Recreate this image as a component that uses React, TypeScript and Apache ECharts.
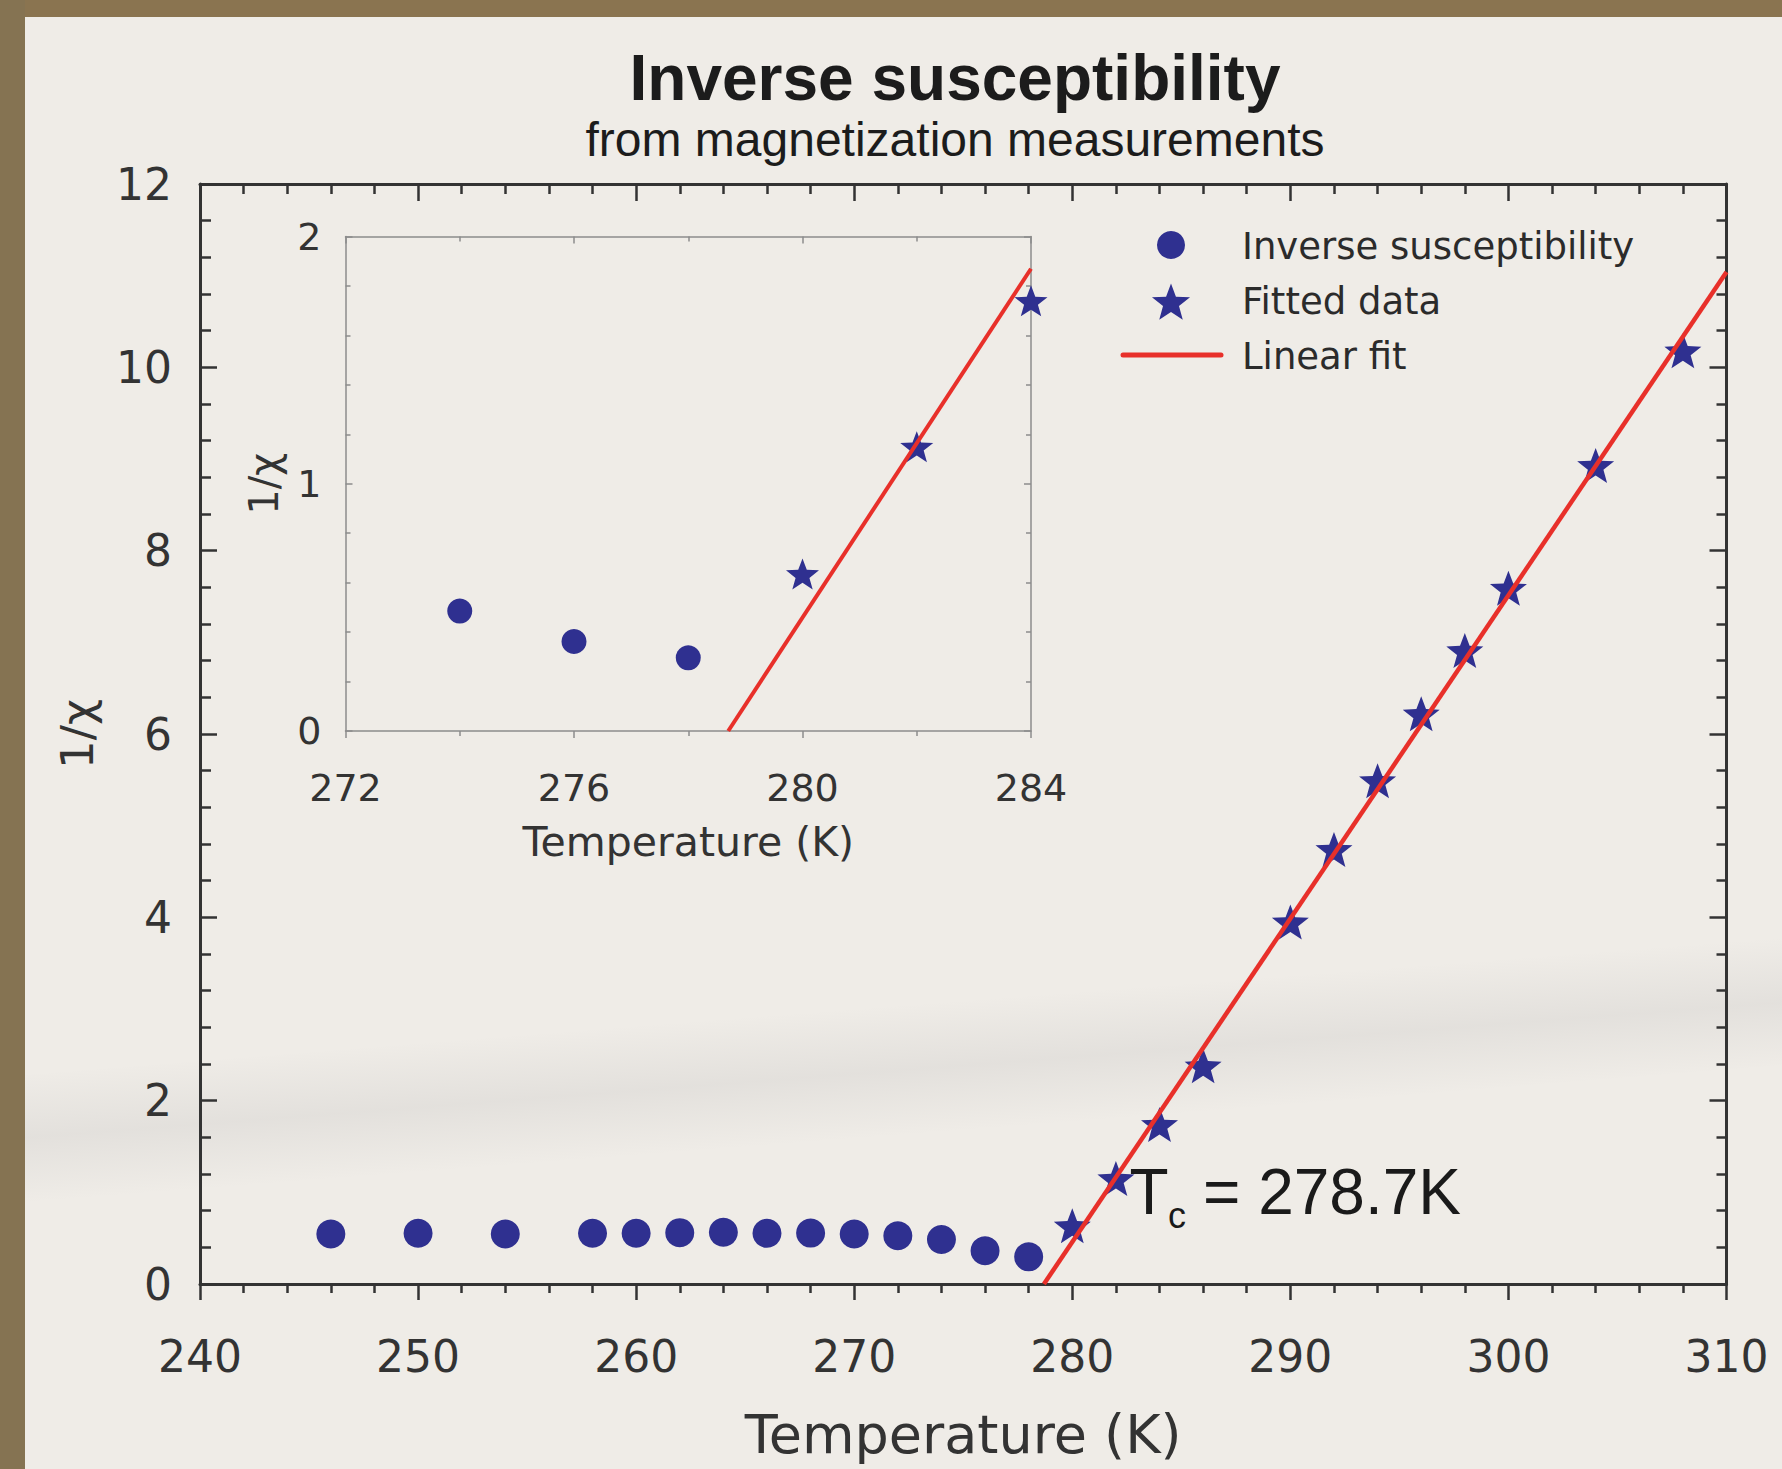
import React, { useEffect, useRef } from 'react';
import * as echarts from 'echarts';

// ---- data ----
const circleTemps = [246, 250, 254, 258, 260, 262, 264, 266, 268, 270, 272, 274, 276, 278];
const circleValues = [0.545, 0.553, 0.545, 0.553, 0.553, 0.56, 0.564, 0.553, 0.555, 0.545, 0.527, 0.485, 0.362, 0.296];
const starTemps = [280, 282, 284, 286, 290, 292, 294, 296, 298, 300, 304, 308];
const starValues = [0.635, 1.15, 1.74, 2.38, 3.95, 4.74, 5.49, 6.22, 6.91, 7.59, 8.93, 10.18];
const fitMainTemps = [278.7, 310];
const fitMainValues = [0, 11.04];
const fitInsetTemps = [278.7, 284];
const fitInsetValues = [0, 1.87];
// temperatures shown in the inset (the 272 K point is not drawn there)
const insetDataRange = [274, 284];

const NAVY = '#2f3090';
const RED = '#e8302a';
const AXIS = '#333333';
const INSET_AXIS = '#8c8c8c';
const PAPER = '#efece7';
const SANS = '"DejaVu Sans", sans-serif';
const ARIAL = '"Liberation Sans", Arial, sans-serif';

function zip(xs: number[], ys: number[]) {
  return xs.map((x, i) => [x, ys[i]]);
}
function inRange(xs: number[], ys: number[], lo: number, hi: number) {
  return zip(xs, ys).filter((p) => p[0] >= lo && p[0] <= hi);
}
function starPts(cx: number, cy: number, R: number, ratio: number) {
  const pts: number[][] = [];
  for (let i = 0; i < 10; i++) {
    const a = -Math.PI / 2 + (i * Math.PI) / 5;
    const r = i % 2 === 0 ? R : R * ratio;
    pts.push([cx + r * Math.cos(a), cy + r * Math.sin(a)]);
  }
  return pts;
}
function starSymbol(ratio: number) {
  const p = starPts(0, 0, 1, ratio).map((q) => q[0].toFixed(4) + ',' + q[1].toFixed(4));
  return 'path://M' + p.join('L') + 'Z';
}
const STAR = starSymbol(0.42);

export default function App() {
  const ref = useRef<HTMLDivElement>(null);
  useEffect(() => {
    if (!ref.current) return;
    const chart = echarts.init(ref.current, undefined, { renderer: 'svg' });

    const mainTick = (inside: boolean, len: number, mlen: number) => ({
      axisTick: { show: true, inside, length: len, lineStyle: { color: AXIS, width: 2.5 } },
      minorTick: { show: true, splitNumber: 5, length: mlen, lineStyle: { color: AXIS, width: 2.5 } },
    });
    const insetTick = (inside: boolean, split: number) => ({
      axisTick: { show: true, inside, length: 7, lineStyle: { color: INSET_AXIS, width: 1.5 } },
      minorTick: { show: true, splitNumber: split, length: 5, lineStyle: { color: INSET_AXIS, width: 1.5 } },
    });

    const option: any = {
      animation: false,
      backgroundColor: PAPER,
      title: [
        {
          text: 'Inverse susceptibility',
          left: 955,
          top: 46,
          padding: 0,
          textAlign: 'center',
          textVerticalAlign: 'top',
          textStyle: { fontFamily: ARIAL, fontWeight: 'bold', fontSize: 64, color: '#1c1c1c' },
        },
        {
          text: 'from magnetization measurements',
          left: 955,
          top: 115.5,
          padding: 0,
          textAlign: 'center',
          textVerticalAlign: 'top',
          textStyle: { fontFamily: ARIAL, fontWeight: 'normal', fontSize: 48, color: '#1c1c1c' },
        },
      ],
      grid: [
        { left: 200, top: 184, width: 1526.5, height: 1100, outerBoundsMode: 'none', containLabel: false },
        { left: 345.5, top: 236.6, width: 685.5, height: 494.4, outerBoundsMode: 'none', containLabel: false },
      ],
      xAxis: [
        {
          type: 'value', gridIndex: 0, position: 'bottom', min: 240, max: 310, interval: 10,
          axisLine: { show: true, onZero: false, lineStyle: { color: AXIS, width: 3 } },
          ...mainTick(false, 16, 9),
          axisLabel: { margin: 50, fontSize: 44, color: AXIS, fontFamily: SANS },
          splitLine: { show: false },
          name: 'Temperature (K)', nameLocation: 'middle', nameGap: 123,
          nameTextStyle: { fontSize: 54, color: AXIS, fontFamily: SANS },
        },
        {
          type: 'value', gridIndex: 0, position: 'top', min: 240, max: 310, interval: 10,
          axisLine: { show: true, onZero: false, lineStyle: { color: AXIS, width: 3 } },
          ...mainTick(true, 17, 10),
          axisLabel: { show: false },
          splitLine: { show: false },
        },
        {
          type: 'value', gridIndex: 1, position: 'bottom', min: 272, max: 284, interval: 4,
          axisLine: { show: true, onZero: false, lineStyle: { color: INSET_AXIS, width: 1.5 } },
          ...insetTick(false, 2),
          axisLabel: { margin: 38, fontSize: 38, color: AXIS, fontFamily: SANS },
          splitLine: { show: false },
          name: 'Temperature (K)', nameLocation: 'middle', nameGap: 90,
          nameTextStyle: { fontSize: 41, color: AXIS, fontFamily: SANS },
        },
        {
          type: 'value', gridIndex: 1, position: 'top', min: 272, max: 284, interval: 4,
          axisLine: { show: true, onZero: false, lineStyle: { color: INSET_AXIS, width: 1.5 } },
          ...insetTick(true, 2),
          axisLabel: { show: false },
          splitLine: { show: false },
        },
      ],
      yAxis: [
        {
          type: 'value', gridIndex: 0, position: 'left', min: 0, max: 12, interval: 2,
          axisLine: { show: true, onZero: false, lineStyle: { color: AXIS, width: 3 } },
          ...mainTick(true, 17, 11),
          axisLabel: { margin: 28, fontSize: 44, color: AXIS, fontFamily: SANS },
          splitLine: { show: false },
          name: '1/χ', nameLocation: 'middle', nameGap: 100,
          nameTextStyle: { fontSize: 45, color: AXIS, fontFamily: SANS },
        },
        {
          type: 'value', gridIndex: 0, position: 'right', min: 0, max: 12, interval: 2,
          axisLine: { show: true, onZero: false, lineStyle: { color: AXIS, width: 3 } },
          ...mainTick(true, 17, 10),
          axisLabel: { show: false },
          splitLine: { show: false },
        },
        {
          type: 'value', gridIndex: 1, position: 'left', min: 0, max: 2, interval: 1,
          axisLine: { show: true, onZero: false, lineStyle: { color: INSET_AXIS, width: 1.5 } },
          ...insetTick(true, 5),
          axisLabel: { margin: 24, fontSize: 38, color: AXIS, fontFamily: SANS },
          splitLine: { show: false },
          name: '1/χ', nameLocation: 'middle', nameGap: 62,
          nameTextStyle: { fontSize: 40, color: AXIS, fontFamily: SANS },
        },
        {
          type: 'value', gridIndex: 1, position: 'right', min: 0, max: 2, interval: 1,
          axisLine: { show: true, onZero: false, lineStyle: { color: INSET_AXIS, width: 1.5 } },
          ...insetTick(true, 5),
          axisLabel: { show: false },
          splitLine: { show: false },
        },
      ],
      series: [
        {
          name: 'Inverse susceptibility', type: 'scatter', xAxisIndex: 0, yAxisIndex: 0,
          symbol: 'circle', symbolSize: 29, itemStyle: { color: NAVY, opacity: 1 },
          data: zip(circleTemps, circleValues),
        },
        {
          name: 'Fitted data', type: 'scatter', xAxisIndex: 0, yAxisIndex: 0,
          symbol: STAR, symbolSize: [37, 35], itemStyle: { color: NAVY, opacity: 1 },
          data: zip(starTemps, starValues),
        },
        {
          name: 'Linear fit', type: 'line', xAxisIndex: 0, yAxisIndex: 0,
          showSymbol: false, symbol: 'none', lineStyle: { color: RED, width: 4.5 },
          data: zip(fitMainTemps, fitMainValues), z: 5,
        },
        {
          name: 'Inverse susceptibility (inset)', type: 'scatter', xAxisIndex: 2, yAxisIndex: 2,
          symbol: 'circle', symbolSize: 25, itemStyle: { color: NAVY, opacity: 1 },
          data: inRange(circleTemps, circleValues, insetDataRange[0], insetDataRange[1]),
        },
        {
          name: 'Fitted data (inset)', type: 'scatter', xAxisIndex: 2, yAxisIndex: 2,
          symbol: STAR, symbolSize: [33, 31], itemStyle: { color: NAVY, opacity: 1 },
          data: inRange(starTemps, starValues, insetDataRange[0], insetDataRange[1]),
        },
        {
          name: 'Linear fit (inset)', type: 'line', xAxisIndex: 2, yAxisIndex: 2,
          showSymbol: false, symbol: 'none', lineStyle: { color: RED, width: 4 },
          data: zip(fitInsetTemps, fitInsetValues), z: 5,
        },
      ],
      graphic: [
        // faint photographic shadow band across the paper
        {
          type: 'polygon',
          shape: { points: [[25, 1075], [1782, 935], [1782, 1065], [25, 1205]] },
          style: {
            fill: {
              type: 'linear', global: true, x: 886, y: 1006, x2: 896, y2: 1136,
              colorStops: [
                { offset: 0, color: 'rgba(120,120,125,0)' },
                { offset: 0.5, color: 'rgba(120,120,125,0.10)' },
                { offset: 1, color: 'rgba(120,120,125,0)' },
              ],
            },
          },
          z: -1,
          silent: true,
        },
        { type: 'rect', shape: { x: 0, y: 0, width: 1782, height: 17 }, style: { fill: '#8a7450' }, z: 100 },
        { type: 'rect', shape: { x: 0, y: 0, width: 25, height: 1469 }, style: { fill: '#857352' }, z: 100 },
        // legend
        { type: 'circle', shape: { cx: 1171, cy: 245, r: 14 }, style: { fill: NAVY }, z: 50 },
        { type: 'polygon', shape: { points: starPts(1171, 303.5, 20, 0.42) }, style: { fill: NAVY }, z: 50 },
        { type: 'line', shape: { x1: 1123, y1: 355, x2: 1221, y2: 355 }, style: { stroke: RED, lineWidth: 5, lineCap: 'round' }, z: 50 },
        { type: 'text', x: 1242, y: 246, style: { text: 'Inverse susceptibility', fontSize: 37, fontFamily: SANS, fill: '#2b2b2b', verticalAlign: 'middle', align: 'left' }, z: 50 },
        { type: 'text', x: 1242, y: 301, style: { text: 'Fitted data', fontSize: 37, fontFamily: SANS, fill: '#2b2b2b', verticalAlign: 'middle', align: 'left' }, z: 50 },
        { type: 'text', x: 1242, y: 356, style: { text: 'Linear fit', fontSize: 37, fontFamily: SANS, fill: '#2b2b2b', verticalAlign: 'middle', align: 'left' }, z: 50 },
        // Tc annotation
        { type: 'text', x: 1129.5, y: 1192, style: { text: 'T', fontSize: 64, fontFamily: ARIAL, fill: '#1a1a1a', verticalAlign: 'middle', align: 'left' }, z: 50 },
        { type: 'text', x: 1168, y: 1215, style: { text: 'c', fontSize: 36, fontFamily: ARIAL, fill: '#1a1a1a', verticalAlign: 'middle', align: 'left' }, z: 50 },
        { type: 'text', x: 1203, y: 1192, style: { text: '= 278.7K', fontSize: 64, fontFamily: ARIAL, fill: '#1a1a1a', verticalAlign: 'middle', align: 'left' }, z: 50 },
      ],
    };
    chart.setOption(option);
    return () => chart.dispose();
  }, []);
  return (
    <div
      ref={ref}
      style={{ position: 'absolute', left: 0, top: 0, width: 1782, height: 1469, background: PAPER }}
    />
  );
}
